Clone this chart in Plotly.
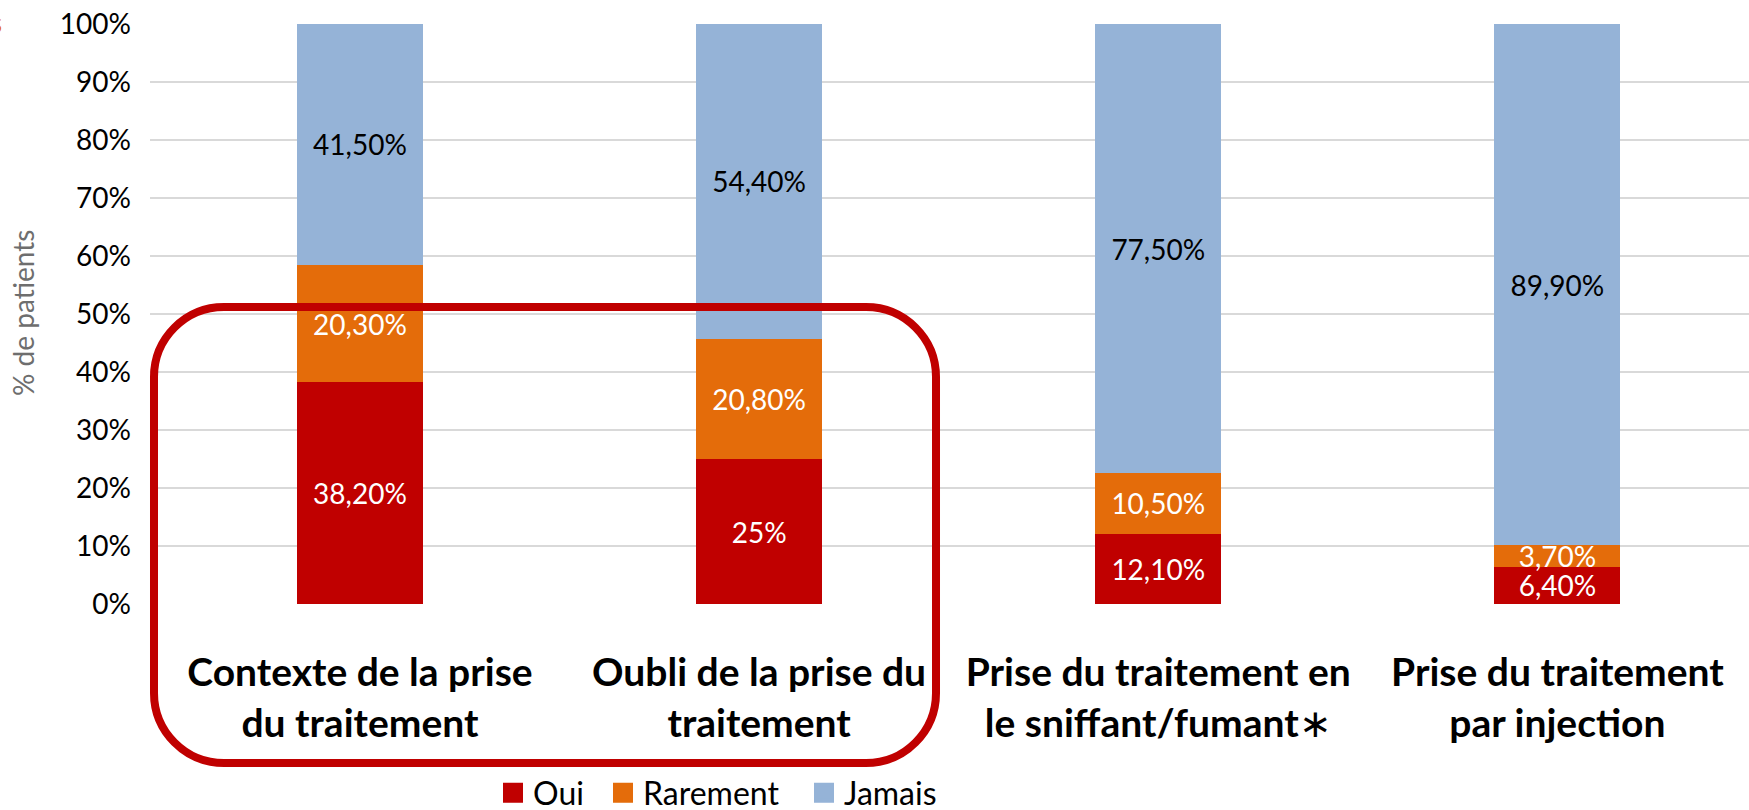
import plotly.graph_objects as go

categories = [
    "Contexte de la prise<br>du traitement",
    "Oubli de la prise du<br>traitement",
    "Prise du traitement en<br>le sniffant/fumant<span style='font-weight:normal'>∗</span>",
    "Prise du traitement<br>par injection",
]
oui = [38.2, 25.0, 12.1, 6.4]
rarement = [20.3, 20.8, 10.5, 3.7]
jamais = [41.5, 54.4, 77.5, 89.9]
oui_labels = ["38,20%", "25%", "12,10%", "6,40%"]
rarement_labels = ["20,30%", "20,80%", "10,50%", "3,70%"]
jamais_labels = ["41,50%", "54,40%", "77,50%", "89,90%"]
y_ticks = [0, 10, 20, 30, 40, 50, 60, 70, 80, 90, 100]

C_OUI = "#C00000"
C_RAR = "#E46C0A"
C_JAM = "#95B3D7"
FONT = "Lato"

W, H = 1749, 810
L, R, T, B = 150, 0, 24, 206
PW, PH = W - L - R, H - T - B

def px2paper(x, y):
    return (x - L) / PW, (H - B - y) / PH

xs = list(range(len(categories)))

fig = go.Figure()
series = [
    ("Oui", oui, oui_labels, C_OUI, "white"),
    ("Rarement", rarement, rarement_labels, C_RAR, "white"),
    ("Jamais", jamais, jamais_labels, C_JAM, "black"),
]
for name, vals, labs, col, tcol in series:
    fig.add_trace(go.Bar(
        x=xs, y=vals, name=name, text=labs, marker=dict(color=col, line=dict(width=0)),
        textposition="inside", insidetextanchor="middle", textangle=0,
        textfont=dict(family=FONT, size=28, color=tcol),
        showlegend=False, hoverinfo="skip",
    ))

# legend entries (one legend per entry, to reproduce the reference spacing)
legend_ids = ["legend", "legend2", "legend3"]
legend_left_px = [493, 603, 804]
legend_layout = {}
for (name, vals, labs, col, tcol), lid, lx in zip(series, legend_ids, legend_left_px):
    fig.add_trace(go.Scatter(
        x=[None], y=[None], mode="markers", name=name, legend=lid,
        marker=dict(symbol="square", size=16, color=col, line=dict(color=col, width=4)),
    ))
    legend_layout[lid] = dict(
        orientation="h", xref="container", yref="container",
        x=lx / W, xanchor="left", y=(H - 793) / H, yanchor="middle",
        font=dict(family=FONT, size=32, color="black"),
        bgcolor="rgba(0,0,0,0)", borderwidth=0,
    )

fig.update_layout(
    width=W, height=H, autosize=False,
    margin=dict(l=L, r=R, t=T, b=B, pad=0, autoexpand=False),
    barmode="stack", barnorm="percent", bargap=0.684,
    plot_bgcolor="white", paper_bgcolor="white",
    font=dict(family=FONT, color="black"),
    uniformtext=dict(minsize=28, mode="show"),
    showlegend=True,
    **legend_layout,
)
fig.update_xaxes(
    range=[-0.526, 3.48], tickvals=xs, ticktext=categories,
    tickfont=dict(family=FONT, size=39, color="black", weight="bold"),
    showgrid=False, zeroline=False, showline=False, ticks="",
    ticklabelstandoff=42, automargin=False,
)
fig.update_yaxes(
    range=[0, 100], tickvals=y_ticks, ticktext=[f"{v}%" for v in y_ticks],
    tickfont=dict(family=FONT, size=28, color="black"),
    showgrid=True, gridcolor="#D9D9D9", gridwidth=2,
    zeroline=False, showline=False, ticks="", ticklabelstandoff=18, automargin=False,
)

# y axis title
ax, ay = px2paper(23, 313)
fig.add_annotation(text="% de patients", xref="paper", yref="paper", x=ax, y=ay,
                   xanchor="center", yanchor="middle", textangle=-90, showarrow=False,
                   font=dict(family=FONT, size=28, color="#6E6E6E"))
# cut-off orange glyph at top-left (as in the reference)
ox, oy = px2paper(4, 22)
fig.add_annotation(text="s", xref="paper", yref="paper", x=ox, y=oy, xanchor="right",
                   yanchor="middle", showarrow=False,
                   font=dict(family=FONT, size=28, color="#E46C0A"))

# rounded highlight rectangle
x0, y0, x1, y1, r = 154, 307, 936, 763, 70
k = 0.5523 * r
def P(x, y):
    px, py = px2paper(x, y)
    return f"{px:.5f},{py:.5f}"
path = (
    f"M{P(x0 + r, y0)} L{P(x1 - r, y0)} "
    f"C{P(x1 - r + k, y0)} {P(x1, y0 + r - k)} {P(x1, y0 + r)} "
    f"L{P(x1, y1 - r)} "
    f"C{P(x1, y1 - r + k)} {P(x1 - r + k, y1)} {P(x1 - r, y1)} "
    f"L{P(x0 + r, y1)} "
    f"C{P(x0 + r - k, y1)} {P(x0, y1 - r + k)} {P(x0, y1 - r)} "
    f"L{P(x0, y0 + r)} "
    f"C{P(x0, y0 + r - k)} {P(x0 + r - k, y0)} {P(x0 + r, y0)} Z"
)
fig.add_shape(type="path", path=path, xref="paper", yref="paper",
              line=dict(color=C_OUI, width=8), fillcolor="rgba(0,0,0,0)", layer="above")

fig.write_html(
    "out.html",
    config={"displayModeBar": False},
    post_script="document.body.style.margin='0';document.body.style.overflow='hidden';",
)
